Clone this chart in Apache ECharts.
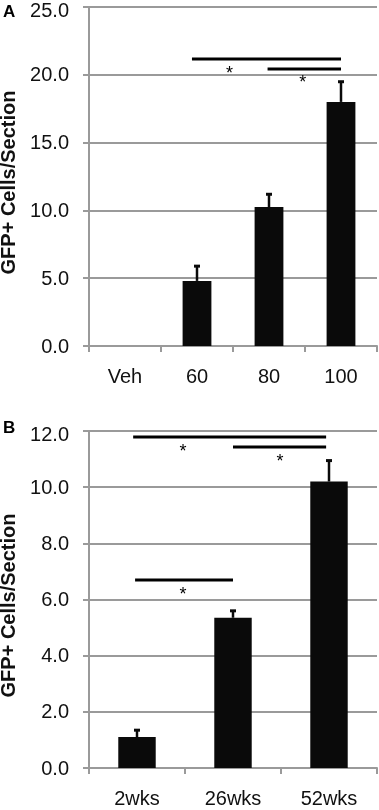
<!DOCTYPE html>
<html>
<head>
<meta charset="utf-8">
<script src="https://cdn.jsdelivr.net/npm/echarts@6/dist/echarts.min.js"></script>
<style>
  html, body { margin: 0; padding: 0; background: #fff; }
  #chart { width: 379px; height: 810px; }
</style>
</head>
<body>
<div id="chart"></div>
<script>
// panel A: dose
const catsA = ['Veh', '60', '80', '100'];
const meanA = [null, 4.8, 10.25, 18.0];
const errTopA = [null, 6.0, 11.3, 19.6];
// brackets: [xStart, xEnd, y] on a 0..n-1 position scale
const bracketsA = [[0.93, 3.0, 21.17], [1.98, 3.0, 20.43]];
const starsA = [[1.45, 20.35], [2.47, 19.7]];

// panel B: time
const catsB = ['2wks', '26wks', '52wks'];
const meanB = [1.1, 5.35, 10.2];
const errTopB = [1.4, 5.65, 11.0];
const bracketsB = [[-0.04, 1.97, 11.79], [1.0, 1.97, 11.43], [-0.02, 1.0, 6.69]];
const starsB = [[0.48, 11.39], [1.49, 11.03], [0.48, 6.3]];

const FONT = 'Liberation Sans, Arial, sans-serif';
const GRAY = '#9a9a9a';
const BAR = '#0a0a0a';

const chart = echarts.init(document.getElementById('chart'));

function catAxis(gridIndex, data) {
    return {
        type: 'category',
        gridIndex: gridIndex,
        data: data,
        axisLine: { lineStyle: { color: GRAY, width: 2 } },
        axisTick: { show: true, length: 6, interval: 0, lineStyle: { color: GRAY, width: 2 } },
        axisLabel: { color: '#111', fontSize: 20, fontFamily: FONT, margin: 21, interval: 0 },
        splitLine: { show: false }
    };
}

function posAxis(gridIndex, n) {
    // hidden helper axis for significance brackets and stars
    return {
        type: 'value',
        gridIndex: gridIndex,
        min: -0.5,
        max: n - 0.5,
        show: false,
        axisLine: { show: false },
        splitLine: { show: false }
    };
}

function valAxis(gridIndex, max, interval) {
    return {
        type: 'value',
        gridIndex: gridIndex,
        min: 0,
        max: max,
        interval: interval,
        name: 'GFP+ Cells/Section',
        nameLocation: 'middle',
        nameRotate: 90,
        nameGap: 68,
        nameTextStyle: {
            color: '#111', fontSize: 20, fontWeight: 'bold', fontFamily: FONT,
            padding: [0, 12, 0, 0]
        },
        axisLine: { show: true, onZero: false, lineStyle: { color: GRAY, width: 2 } },
        axisTick: { show: true, length: 6, lineStyle: { color: GRAY, width: 2 } },
        axisLabel: {
            color: '#111', fontSize: 20, fontFamily: FONT, margin: 20,
            padding: [2, 0, 0, 0],
            formatter: v => v === max ? '{t|' + v.toFixed(1) + '}' : v.toFixed(1),
            rich: {
                t: { color: '#111', fontSize: 20, fontFamily: FONT, padding: [7, 0, 0, 0] }
            }
        },
        splitLine: { show: true, lineStyle: { color: GRAY, width: 2 } }
    };
}

function errorSeries(xi, yi, cats, tops, means) {
    const data = [];
    cats.forEach((c, i) => {
        if (means[i] != null) data.push([c, means[i], tops[i]]);
    });
    return {
        type: 'custom',
        xAxisIndex: xi,
        yAxisIndex: yi,
        z: 3,
        encode: { x: 0, y: [1, 2] },
        data: data,
        renderItem: function (params, api) {
            const p0 = api.coord([api.value(0), api.value(1)]);
            const p1 = api.coord([api.value(0), api.value(2)]);
            return {
                type: 'group',
                children: [{
                    type: 'line',
                    shape: { x1: p0[0], y1: p0[1], x2: p1[0], y2: p1[1] + 1 },
                    style: { stroke: BAR, lineWidth: 2.5 }
                }, {
                    type: 'rect',
                    shape: { x: p1[0] - 3, y: p1[1], width: 6, height: 3 },
                    style: { fill: BAR }
                }]
            };
        }
    };
}

function bracketSeries(xi, yi, data) {
    return {
        type: 'custom',
        xAxisIndex: xi,
        yAxisIndex: yi,
        encode: { x: [0, 1], y: 2 },
        data: data,
        renderItem: function (params, api) {
            const a = api.coord([api.value(0), api.value(2)]);
            const b = api.coord([api.value(1), api.value(2)]);
            return {
                type: 'line',
                shape: { x1: a[0], y1: a[1], x2: b[0], y2: b[1] },
                style: { stroke: '#000', lineWidth: 3 }
            };
        }
    };
}

function starSeries(xi, yi, data) {
    return {
        type: 'custom',
        xAxisIndex: xi,
        yAxisIndex: yi,
        encode: { x: 0, y: 1 },
        data: data,
        renderItem: function (params, api) {
            const p = api.coord([api.value(0), api.value(1)]);
            return {
                type: 'text',
                style: {
                    text: '*', x: p[0], y: p[1] + 4,
                    fill: '#000', font: '18px ' + FONT,
                    align: 'center', verticalAlign: 'middle'
                }
            };
        }
    };
}

chart.setOption({
    backgroundColor: '#fff',
    animation: false,
    grid: [
        { left: 89, top: 7, width: 288, height: 339, outerBoundsMode: 'none' },
        { left: 89, top: 431, width: 288, height: 337, outerBoundsMode: 'none' }
    ],
    xAxis: [
        catAxis(0, catsA),
        posAxis(0, catsA.length),
        catAxis(1, catsB),
        posAxis(1, catsB.length)
    ],
    yAxis: [
        valAxis(0, 25, 5),
        valAxis(1, 12, 2)
    ],
    graphic: [
        { type: 'text', left: 3, top: 4, style: { text: 'A', fill: '#000', font: 'bold 17px ' + FONT } },
        { type: 'text', left: 3, top: 420, style: { text: 'B', fill: '#000', font: 'bold 17px ' + FONT } }
    ],
    series: [
        {
            type: 'bar', xAxisIndex: 0, yAxisIndex: 0,
            data: meanA, barWidth: '40%',
            itemStyle: { color: BAR }
        },
        errorSeries(0, 0, catsA, errTopA, meanA),
        bracketSeries(1, 0, bracketsA),
        starSeries(1, 0, starsA),
        {
            type: 'bar', xAxisIndex: 2, yAxisIndex: 1,
            data: meanB, barWidth: '39%',
            itemStyle: { color: BAR }
        },
        errorSeries(2, 1, catsB, errTopB, meanB),
        bracketSeries(3, 1, bracketsB),
        starSeries(3, 1, starsB)
    ]
});
</script>
</body>
</html>
